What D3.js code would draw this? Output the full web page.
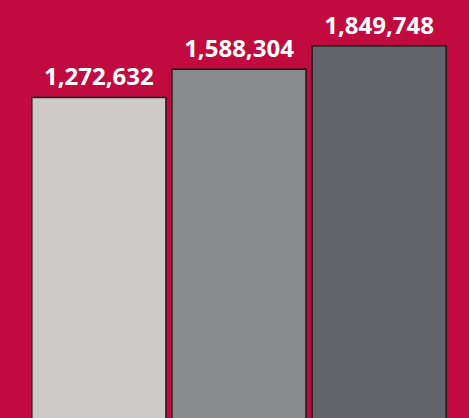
<!DOCTYPE html>
<html>
<head>
<meta charset="utf-8">
<script src="https://cdn.jsdelivr.net/npm/d3@7/dist/d3.min.js"></script>
<style>
  html, body { margin: 0; padding: 0; background: #c00a40; }
  svg { display: block; }
</style>
</head>
<body>
<svg id="chart" width="469" height="418"></svg>
<script>
const categories = ["A", "B", "C"];
const values = [1272632, 1588304, 1849748];
const colors = ["#cdcac8", "#888b8b", "#636469"];

const W = 469, H = 418;
const svg = d3.select("#chart");

svg.append("rect").attr("width", W).attr("height", H).attr("fill", "#c00a40");

const x = d3.scaleBand().domain(categories).range([29, 449]).paddingInner(6 / 140).paddingOuter(0.02);
const y = d3.scaleLinear().domain([0, 2000000]).range([211.3, 32.4]);

const fmt = d3.format(",");

const g = svg.append("g");
g.selectAll("rect.bar")
  .data(values)
  .enter().append("rect")
  .attr("class", "bar")
  .attr("x", (d, i) => x(categories[i]))
  .attr("y", d => y(d))
  .attr("width", x.bandwidth())
  .attr("height", d => H + 20 - y(d))
  .attr("fill", (d, i) => colors[i])
  .attr("stroke", "#1a1a1a")
  .attr("stroke-width", 1.5);

g.selectAll("text.lab")
  .data(values)
  .enter().append("text")
  .attr("class", "lab")
  .attr("x", (d, i) => x(categories[i]) + x.bandwidth() / 2)
  .attr("y", d => y(d) - 12)
  .attr("text-anchor", "middle")
  .attr("fill", "#ffffff")
  .attr("font-family", "'Open Sans', sans-serif")
  .attr("font-weight", "bold")
  .attr("font-size", "24px")
  .text(d => fmt(d));
</script>
</body>
</html>
